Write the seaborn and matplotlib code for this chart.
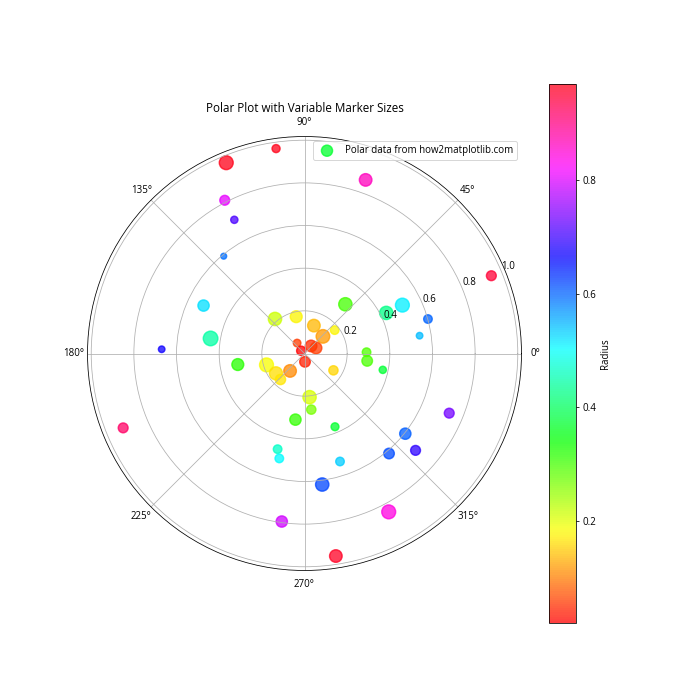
import numpy as np
import pandas as pd
import matplotlib
matplotlib.use("Agg")
import matplotlib as mpl
import matplotlib.pyplot as plt
import seaborn as sns

# Angles (degrees), radii and marker sizes (pt^2)
theta_deg = [292.6, 97.9, 112.3, 117.5, 117.7, 129.7, 154.6, 170.9, 178.3, 130.5,
             102.7, 125.3, 140.0, 70.6, 22.6, 50.3, 26.4, 26.3, 15.6, 8.8,
             71.4, 42.9, 37.8, 49.0, 25.6, 1.2, 353.3, 189.4, 196.7, 214.8,
             227.3, 230.4, 273.5, 276.6, 262.2, 254.3, 256.5, 202.3, 262.3, 329.8,
             348.2, 276.9, 337.6, 321.5, 318.9, 310.2, 288.2, 277.7, 298.0, 278.8]
radius = [0.372, 0.970, 0.967, 0.810, 0.708, 0.593, 0.524, 0.446, 0.670, 0.213,
          0.177, 0.060, 0.020, 0.863, 0.949, 0.300, 0.428, 0.512, 0.601, 0.546,
          0.138, 0.118, 0.179, 0.047, 0.060, 0.291, 0.296, 0.317, 0.186, 0.163,
          0.166, 0.106, 0.039, 0.206, 0.313, 0.466, 0.506, 0.919, 0.795, 0.157,
          0.375, 0.265, 0.734, 0.604, 0.691, 0.614, 0.533, 0.620, 0.841, 0.961]
marker_size = [65, 68, 203, 102, 55, 36, 134, 224, 45, 186,
               148, 60, 90, 166, 102, 186, 186, 203, 77, 45,
               166, 194, 77, 141, 141, 77, 118, 148, 203, 180,
               110, 166, 118, 186, 134, 77, 77, 102, 134, 90,
               55, 90, 102, 134, 102, 118, 77, 186, 203, 166]

df = pd.DataFrame({"theta": np.deg2rad(theta_deg), "r": radius, "s": marker_size})

plt.rcParams["font.family"] = ["Open Sans", "DejaVu Sans"]

cmap = mpl.colormaps["hsv"]
vmin, vmax = min(radius), max(radius)

fig = plt.figure(figsize=(10, 10), dpi=70)
ax = fig.add_subplot(111, projection="polar")

smin, smax = min(marker_size), max(marker_size)
sns.scatterplot(data=df, x="theta", y="r", hue="r", size="s", ax=ax,
                palette=cmap, hue_norm=(vmin, vmax),
                sizes=(smin, smax), size_norm=(smin, smax),
                alpha=0.75, edgecolor="face", linewidth=1.5, legend=False)
ax.set_xlabel("")
ax.set_ylabel("")

coll = ax.collections[0]
coll.set_label("Polar data from how2matplotlib.com")
ax.legend(loc="upper right")

sm = mpl.cm.ScalarMappable(norm=mpl.colors.Normalize(vmin, vmax), cmap=cmap)
sm.set_array([])
fig.colorbar(sm, ax=ax, label="Radius", alpha=0.75)

ax.set_title("Polar Plot with Variable Marker Sizes")
fig.savefig("out.png", dpi=70)
